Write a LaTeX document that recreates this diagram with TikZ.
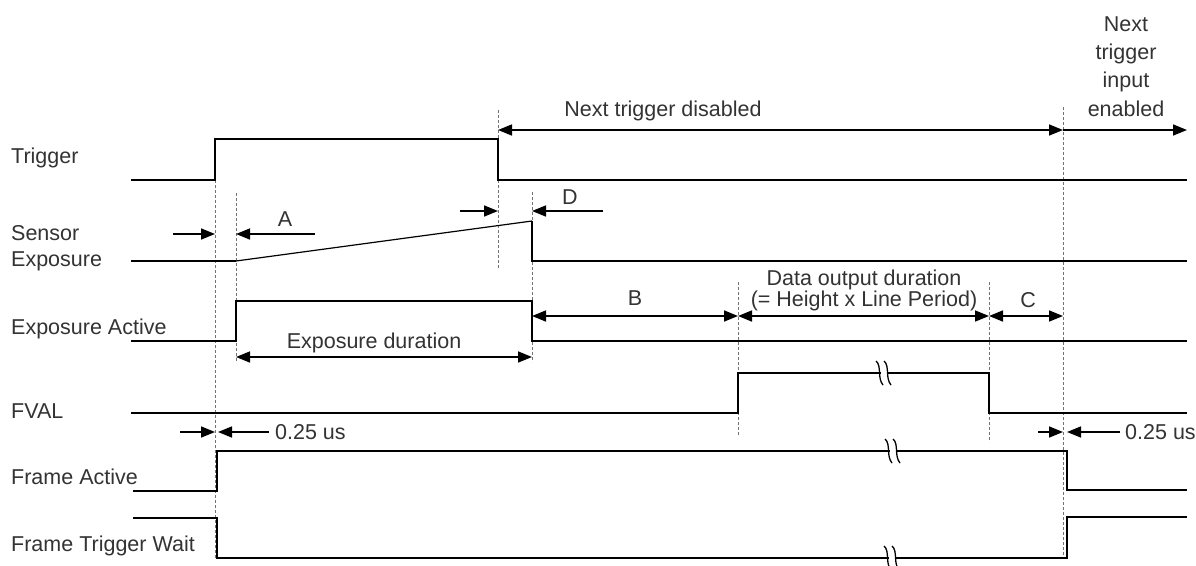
\documentclass[tikz,border=0pt]{standalone}
\usepackage{fontspec}
\setmainfont{Liberation Sans}
\usetikzlibrary{arrows.meta}
\begin{document}
\begin{tikzpicture}[x=1pt,y=-1pt,
  sig/.style={line width=2pt, black, line join=miter, line cap=butt},
  ramp/.style={line width=1.2pt, black},
  guide/.style={line width=0.9pt, black!55, dash pattern=on 3pt off 2pt},
  dimline/.style={line width=1.6pt, black, >={Triangle[length=14pt,width=11pt]}},
  lbl/.style={font=\fontsize{21.5}{24}\selectfont, text=black!80, inner sep=0pt},
  brk/.pic={
    \fill[white] (-3,-3) rectangle (3,3);
    \draw[line width=1.3pt] (-8,-12) .. controls (-2,-7) and (-7,5) .. (-1,12);
    \draw[line width=1.3pt] (0,-12) .. controls (6,-7) and (1,5) .. (7,12);
  }]
\fill[white] (0,0) rectangle (1196,565);
\useasboundingbox (0,0) rectangle (1196,565);

% ---------- row labels ----------
\node[lbl, anchor=base west] (tTrig) at (11,163) {Trigger};
\node[lbl, anchor=base west] (tSens) at (11,240) {Sensor};
\node[lbl, anchor=base west] (tExpo) at (11,266) {Exposure};
\node[lbl, anchor=base west] (tEA)   at (11,334) {Exposure Active};
\node[lbl, anchor=base west] (tF)    at (11,418) {FVAL};
\node[lbl, anchor=base west] (tFA)   at (11,484) {Frame Active};
\node[lbl, anchor=base west] (tFTW)  at (11,551) {Frame Trigger Wait};

% ---------- dashed guides ----------
\draw[guide] (215,180) -- (215,559);
\draw[guide] (236,193) -- (236,362);
\draw[guide] (498,110) -- (498,268);
\draw[guide] (532,192) -- (532,362);
\draw[guide] (738,282) -- (738,436);
\draw[guide] (989,282) -- (989,442);
\draw[guide] (1063,107) -- (1063,559);

% ---------- signals ----------
\draw[sig] (131,180) -- (215,180) -- (215,139) -- (498,139) -- (498,180) -- (1187,180);
\draw[sig] (131,261) -- (236,261);
\draw[ramp] (236,261) -- (532,221);
\draw[sig] (532,221) -- (532,261) -- (1187,261);
\draw[sig] (131,341) -- (236,341) -- (236,301) -- (532,301) -- (532,341) -- (1187,341);
\draw[sig] (131,413) -- (738,413) -- (738,373) -- (989,373) -- (989,413) -- (1187,413);
\draw[sig] (133,491) -- (217,491) -- (217,451) -- (1067,451) -- (1067,490) -- (1187,490);
\draw[sig] (133,518) -- (217,518) -- (217,558) -- (1067,558) -- (1067,517) -- (1187,517);

% ---------- break marks ----------
\pic at (884,373) {brk};
\pic at (893,451) {brk};
\pic at (892,558) {brk};

% ---------- top annotations ----------
\node[lbl, anchor=base] (tNTD) at (663,116) {Next trigger disabled};
\node[lbl, anchor=base] (tN1) at (1126,31) {Next};
\node[lbl, anchor=base] (tN2) at (1126,59) {trigger};
\node[lbl, anchor=base] (tN3) at (1126,87) {input};
\node[lbl, anchor=base] (tN4) at (1126,116) {enabled};
\draw[dimline,<->] (498,130) -- (1063,130);
\draw[dimline,->] (1063,130) -- (1187,130);

% ---------- A and D ----------
\draw[dimline,->] (173,234) -- (215,234);
\draw[dimline,->] (315,234) -- (236,234);
\node[lbl, anchor=base] (tA) at (285,226) {A};
\draw[dimline,->] (460,211) -- (498,211);
\draw[dimline,->] (603,211) -- (532,211);
\node[lbl, anchor=base] (tD) at (570,204) {D};

% ---------- durations ----------
\draw[dimline,<->] (236,357) -- (532,357);
\node[lbl, anchor=base] (tED) at (374,348) {Exposure duration};
\draw[dimline,<->] (532,316) -- (738,316);
\node[lbl, anchor=base] (tB) at (635,305) {B};
\draw[dimline,<->] (738,316) -- (989,316);
\node[lbl, anchor=base] (tDO1) at (864,285) {Data output duration};
\node[lbl, anchor=base] (tDO2) at (864,306) {(= Height x Line Period)};
\draw[dimline,<->] (989,316) -- (1063,316);
\node[lbl, anchor=base] (tC) at (1028,307) {C};

% ---------- 0.25 us ----------
\draw[dimline,->] (180,432) -- (215,432);
\draw[dimline,->] (269,432) -- (218,432);
\node[lbl, anchor=base west] (tQ1) at (275,439) {0.25 us};
\draw[dimline,->] (1038,432) -- (1063,432);
\draw[dimline,->] (1120,432) -- (1067,432);
\node[lbl, anchor=base west] (tQ2) at (1125,439) {0.25 us};
\end{tikzpicture}
\end{document}
